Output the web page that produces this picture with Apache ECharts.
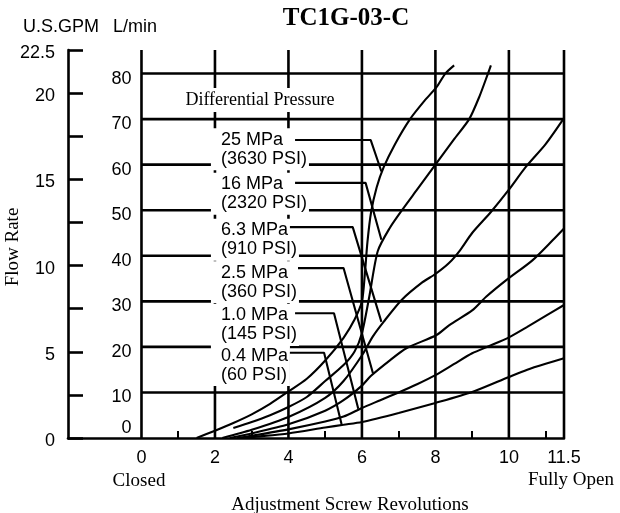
<!DOCTYPE html>
<html><head><meta charset="utf-8">
<script src="https://cdn.jsdelivr.net/npm/echarts@6/dist/echarts.min.js"></script>
<style>html,body{margin:0;padding:0;background:#fff}#c{width:620px;height:513px}</style>
</head><body><div id="c"></div>
<script>
// ---- axes / ticks ----
const GPM_TO_LPM = 3.785411784;
const gpmMax = 22.5;
const lpmMax = gpmMax * GPM_TO_LPM;
const xLabels = [0, 2, 4, 6, 8, 10, 11.5];
const xMinorTicks = [1, 3, 5, 7, 9, 11];
const lpmLabels = [0, 10, 20, 30, 40, 50, 60, 70, 80];
const gpmLabels = [0, 5, 10, 15, 20, 22.5];
const hGrid = [10, 20, 30, 40, 50, 60, 70, 80];
const vGrid = [0, 2, 4, 6, 8, 10, 11.5];

// ---- curves (revolutions, L/min) ----
const rev25  = [1.5, 2, 2.5, 3, 3.5, 4, 4.5, 5, 5.5, 5.8, 6.0, 6.08, 6.15, 6.25, 6.4, 6.59, 6.9, 7.31, 7.7, 8.03, 8.27, 8.51];
const flow25 = [0, 1.6, 3.3, 5.2, 7.5, 10.2, 13, 17, 22, 26, 30, 36, 43, 49.6, 55, 59.4, 64.5, 70, 74, 77, 80, 81.8];
const rev16  = [2.5, 3, 3.5, 4, 4.5, 5, 5.5, 5.8, 6.0, 6.2, 6.43, 6.75, 7.09, 7.5, 8.0, 8.5, 8.92, 9.2, 9.43, 9.51];
const flow16 = [2.2, 3.5, 5, 6.8, 9, 12.5, 16, 19, 23, 31, 41, 46, 50, 54.5, 60, 65.5, 70, 75, 80, 81.8];
const rev63  = [2.2, 3, 4, 5, 5.5, 6.03, 6.29, 6.59, 7.08, 7.65, 8.0, 8.37, 8.67, 9.0, 9.51, 10.0, 10.45, 11.0, 11.5];
const flow63 = [0, 1.8, 4.6, 8.8, 12.5, 18.5, 22.2, 25.5, 30.3, 34.2, 36, 38.4, 41.2, 45, 49.6, 54.5, 59.4, 64.5, 70.2];
const rev25b  = [2.4, 3, 4, 5, 5.5, 6.0, 6.24, 6.77, 7.21, 8.03, 8.38, 9.0, 9.38, 9.92, 10.64, 11.19, 11.5];
const flow25b = [0, 1.0, 3.0, 6, 8.3, 11.5, 13.6, 17.1, 19.7, 22.6, 24.8, 28, 31, 34.6, 39, 43.4, 46];
const rev10  = [2.6, 3, 4, 5, 5.5, 6.0, 6.5, 7.0, 7.5, 8.0, 8.5, 9.0, 9.5, 10.0, 10.5, 11.0, 11.5];
const flow10 = [0, 0.5, 1.9, 3.6, 4.7, 6.6, 8.3, 10, 11.8, 13.8, 16.2, 18.6, 20.3, 22.1, 24.4, 26.8, 29.2];
const rev04  = [2.8, 3, 4, 5, 5.5, 6.0, 7.0, 8.0, 9.0, 10.0, 10.5, 11.0, 11.5];
const flow04 = [0, 0.2, 1.0, 2.3, 2.9, 3.5, 5.5, 7.7, 10.1, 13.4, 15, 16.3, 17.5];

// ---- pressure labels ----
const pressures = ['25 MPa', '16 MPa', '6.3 MPa', '2.5 MPa', '1.0 MPa', '0.4 MPa'];
const psi = ['(3630 PSI)', '(2320 PSI)', '(910 PSI)', '(360 PSI)', '(145 PSI)', '(60 PSI)'];
const labelRev = [1.89, 1.89, 1.89, 1.89, 1.89, 1.89];
const labelFlow = [63.4, 53.6, 43.5, 34.2, 24.8, 16.0];
// leader lines: start rev, knee rev, level flow, end rev, end flow
const leadStartRev = [4.18, 4.18, 4.04, 4.26, 4.18, 4.04];
const leadKneeRev  = [6.24, 6.1, 5.75, 5.5, 5.24, 4.97];
const leadLevel    = [65.4, 56.0, 46.3, 37.3, 27.4, 18.7];
const leadEndRev   = [6.53, 6.53, 6.53, 6.3, 5.9, 5.45];
const leadEndFlow  = [58.5, 43.5, 25.5, 14.2, 6.4, 2.9];

const curves = [[rev25, flow25], [rev16, flow16], [rev63, flow63], [rev25b, flow25b], [rev10, flow10], [rev04, flow04]];

const SANS = '"Liberation Sans", Arial, sans-serif';
const SERIF = '"Liberation Serif", "Times New Roman", serif';
const zip = (xs, ys) => xs.map((x, i) => [x, ys[i]]);

const series = [];
hGrid.forEach(v => series.push({type: 'line', data: [[0, v], [11.5, v]], symbol: 'none', silent: true, z: 1,
  lineStyle: {color: '#000', width: 2.6}, animation: false}));
vGrid.forEach(v => series.push({type: 'line', data: [[v, 0], [v, lpmMax]], symbol: 'none', silent: true, z: 1,
  lineStyle: {color: '#000', width: 2.6}, animation: false}));
series.push({
  type: 'scatter', symbolSize: 0, z: 3, silent: true, animation: false,
  itemStyle: {opacity: 1},
  data: labelRev.map((x, i) => ({value: [x, labelFlow[i]], name: pressures[i] + '\n' + psi[i]})),
  label: {show: true, position: 'right', distance: 0, formatter: p => p.name, color: '#000', opacity: 1,
    fontFamily: SANS, fontSize: 18, lineHeight: 19, align: 'left', backgroundColor: '#fff', padding: [2, 2, 2, 10],
    borderWidth: 0, textBorderWidth: 0, textShadowBlur: 0, shadowBlur: 0}
});
curves.forEach(c => series.push({type: 'line', data: zip(c[0], c[1]), symbol: 'none', smooth: 0.25, z: 5,
  silent: true, animation: false, lineStyle: {color: '#000', width: 2.1}}));
pressures.forEach((p, i) => series.push({type: 'line', symbol: 'none', z: 5, silent: true, animation: false,
  data: [[leadStartRev[i], leadLevel[i]], [leadKneeRev[i], leadLevel[i]], [leadEndRev[i], leadEndFlow[i]]],
  lineStyle: {color: '#000', width: 2.1}}));

const tickRich = {
  s: {lineHeight: 10, fontSize: 1},
  g: {lineHeight: 6, fontSize: 1},
  n: {lineHeight: 18, fontSize: 18, fontFamily: SANS, color: '#000'},
  b: {lineHeight: 20, fontSize: 1}
};

const chart = echarts.init(document.getElementById('c'), null, {renderer: 'canvas'});
chart.setOption({
  animation: false,
  backgroundColor: '#fff',
  grid: {left: 68, right: 56, top: 50, bottom: 75, containLabel: false, outerBoundsMode: 'none'},
  xAxis: {
    type: 'value', min: -2, max: 11.5, interval: 1,
    axisLine: {show: true, lineStyle: {color: '#000', width: 2.6}},
    axisTick: {show: true, inside: true, length: 7, customValues: xMinorTicks, lineStyle: {color: '#000', width: 2}},
    axisLabel: {show: true, customValues: xLabels, margin: 11, color: '#000', fontFamily: SANS, fontSize: 18,
      showMinLabel: true, showMaxLabel: true, hideOverlap: false, formatter: v => String(v)},
    splitLine: {show: false}
  },
  yAxis: [{
    type: 'value', min: 0, max: lpmMax, interval: 10, position: 'left', offset: -73.5,
    axisLine: {show: false}, axisTick: {show: false}, splitLine: {show: false},
    axisLabel: {show: true, customValues: lpmLabels, margin: 10, color: '#000', fontFamily: SANS, fontSize: 18,
      showMinLabel: true, hideOverlap: false, rich: tickRich,
      formatter: v => v === 0 ? '{n|0}\n{b|\u00a0}' : '{s|\u00a0}\n{n|' + v + '}'}
  }, {
    type: 'value', min: 0, max: gpmMax, interval: 2.5, position: 'left', offset: 0,
    axisLine: {show: true, lineStyle: {color: '#000', width: 2.6}},
    axisTick: {show: true, inside: true, length: 15, lineStyle: {color: '#000', width: 2.6}},
    splitLine: {show: false},
    axisLabel: {show: true, customValues: gpmLabels, margin: 13, color: '#000', fontFamily: SANS, fontSize: 18,
      showMinLabel: true, showMaxLabel: true, hideOverlap: false, rich: tickRich,
      formatter: v => '{g|\u00a0}\n{n|' + v + '}'}
  }],
  graphic: [
    {type: 'text', x: 346, y: 19, z: 10, style: {text: 'TC1G-03-C', font: 'bold 25px ' + SERIF, fill: '#000',
      align: 'center', verticalAlign: 'middle', textAlign: 'center', textVerticalAlign: 'middle'}},
    {type: 'text', x: 23, y: 27, z: 10, style: {text: 'U.S.GPM', font: '18px ' + SANS, fill: '#000',
      align: 'left', verticalAlign: 'middle', textAlign: 'left', textVerticalAlign: 'middle'}},
    {type: 'text', x: 113, y: 27, z: 10, style: {text: 'L/min', font: '18px ' + SANS, fill: '#000',
      align: 'left', verticalAlign: 'middle', textAlign: 'left', textVerticalAlign: 'middle'}},
    {type: 'text', x: 260, y: 100, z: 4, style: {text: 'Differential Pressure', font: '18px ' + SERIF, fill: '#000',
      align: 'center', verticalAlign: 'middle', textAlign: 'center', textVerticalAlign: 'middle',
      backgroundColor: '#fff', padding: [3, 3]}},
    {type: 'text', x: 13, y: 247, rotation: Math.PI / 2, z: 10, style: {text: 'Flow Rate', font: '19px ' + SERIF, fill: '#000',
      align: 'center', verticalAlign: 'middle', textAlign: 'center', textVerticalAlign: 'middle'}},
    {type: 'text', x: 139, y: 481, z: 10, style: {text: 'Closed', font: '19px ' + SERIF, fill: '#000',
      align: 'center', verticalAlign: 'middle', textAlign: 'center', textVerticalAlign: 'middle'}},
    {type: 'text', x: 571, y: 480, z: 10, style: {text: 'Fully Open', font: '19px ' + SERIF, fill: '#000',
      align: 'center', verticalAlign: 'middle', textAlign: 'center', textVerticalAlign: 'middle'}},
    {type: 'text', x: 350, y: 505, z: 10, style: {text: 'Adjustment Screw Revolutions', font: '19px ' + SERIF, fill: '#000',
      align: 'center', verticalAlign: 'middle', textAlign: 'center', textVerticalAlign: 'middle'}}
  ],
  series: series
});
</script></body></html>
